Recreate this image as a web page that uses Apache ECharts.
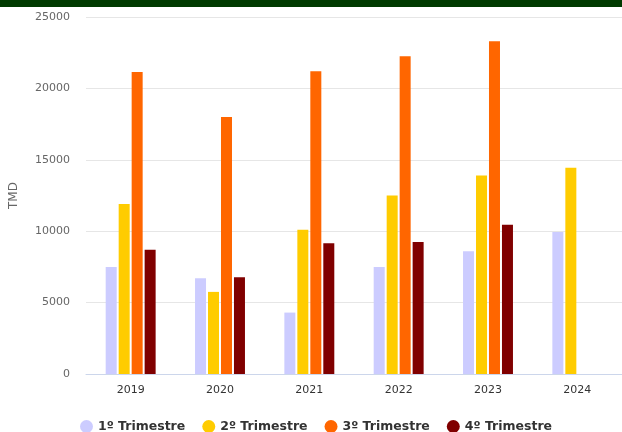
<!DOCTYPE html>
<html><head><meta charset="utf-8">
<script src="https://cdn.jsdelivr.net/npm/echarts@6/dist/echarts.min.js"></script>
<style>html,body{margin:0;padding:0;background:#fff}#c{width:622px;height:432px}</style>
</head><body><div id="c"></div>
<script>
const categories = ['2019','2020','2021','2022','2023','2024'];
const seriesNames = ['1º Trimestre','2º Trimestre','3º Trimestre','4º Trimestre'];
const q1 = [7500, 6700, 4300, 7500, 8600, 9950];
const q2 = [11900, 5750, 10100, 12500, 13900, 14450];
const q3 = [21150, 18000, 21200, 22250, 23300, null];
const q4 = [8700, 6770, 9150, 9250, 10450, null];
const yTicks = [0, 5000, 10000, 15000, 20000, 25000];
const colors = ['#CCCCFF','#FFCC00','#FF6600','#800000'];
const font = '"DejaVu Sans", Verdana, sans-serif';
const chart = echarts.init(document.getElementById('c'), null, {renderer:'canvas'});
const data = [q1,q2,q3,q4];
chart.setOption({
  animation:false,
  textStyle:{fontFamily:font},
  graphic:[{type:'rect', left:0, top:0, shape:{width:622, height:7}, style:{fill:'#003a00'}}],
  grid:{left:86, right:0, top:17, bottom:58, containLabel:false},
  legend:{top:415, left:75, icon:'circle', itemWidth:13, itemHeight:13, itemGap:17,
    textStyle:{fontFamily:font, fontWeight:'bold', fontSize:12.5, color:'#333'}, data:seriesNames},
  xAxis:{type:'category', data:categories,
    axisLine:{lineStyle:{color:'#ccd6eb'}}, axisTick:{show:false},
    axisLabel:{color:'#333', fontSize:11, margin:11, fontFamily:font}},
  yAxis:{type:'value', min:yTicks[0], max:yTicks[yTicks.length-1], interval:5000,
    name:'TMD', nameLocation:'middle', nameGap:66, nameRotate:90,
    nameTextStyle:{color:'#666', fontSize:12, fontFamily:font},
    axisLabel:{color:'#666', fontSize:11, margin:16, fontFamily:font, formatter:v=>String(v)},
    splitLine:{lineStyle:{color:'#e6e6e6'}}, axisLine:{show:false}, axisTick:{show:false}},
  series: seriesNames.map((n,i)=>({name:n, type:'bar', data:data[i], barWidth:11, barGap:'18%',
    itemStyle:{color:colors[i]}}))
});
</script></body></html>
